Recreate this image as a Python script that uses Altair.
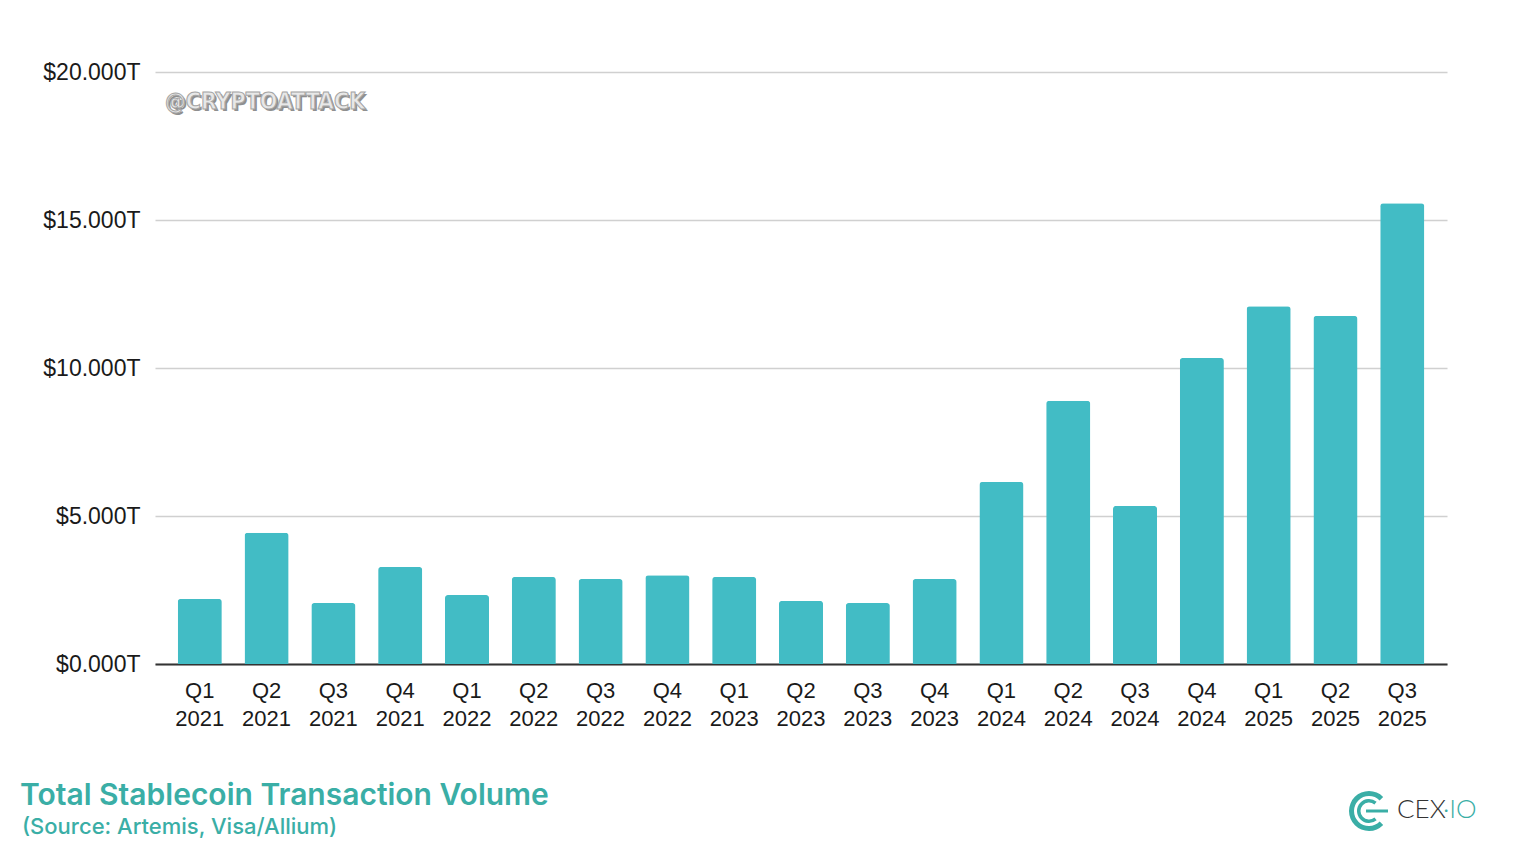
import altair as alt
import pandas as pd

quarters = ["Q1 2021", "Q2 2021", "Q3 2021", "Q4 2021",
            "Q1 2022", "Q2 2022", "Q3 2022", "Q4 2022",
            "Q1 2023", "Q2 2023", "Q3 2023", "Q4 2023",
            "Q1 2024", "Q2 2024", "Q3 2024", "Q4 2024",
            "Q1 2025", "Q2 2025", "Q3 2025"]
volume_t = [2.20, 4.43, 2.06, 3.28,
            2.33, 2.94, 2.87, 3.00,
            2.94, 2.13, 2.06, 2.87,
            6.15, 8.89, 5.34, 10.34,
            12.09, 11.76, 15.57]
y_ticks = [0, 5, 10, 15, 20]

title_text = "Total Stablecoin Transaction Volume"
subtitle_text = "(Source: Artemis, Visa/Allium)"
watermark_text = "@CRYPTOATTACK"

df = pd.DataFrame({"quarter": quarters, "volume": volume_t})
one = pd.DataFrame({"k": [0]})

TEAL = "#42bcc5"
TITLE_TEAL = "#3aaea6"
FONT = "Liberation Sans"
WM_FONT = "Liberation Sans Narrow, DejaVu Sans Condensed, sans-serif"

bars = alt.Chart(df).mark_bar(
    color=TEAL, cornerRadiusTopLeft=3, cornerRadiusTopRight=3
).encode(
    x=alt.X("quarter:N", sort=quarters,
            scale=alt.Scale(paddingInner=0.34, paddingOuter=0.34),
            axis=alt.Axis(title=None, labelAngle=0, ticks=False,
                          domainColor="#333333", domainWidth=2,
                          labelFont=FONT, labelFontSize=22, labelColor="#1a1a1a",
                          labelLineHeight=28, labelPadding=16,
                          labelExpr="split(datum.label, ' ')")),
    y=alt.Y("volume:Q",
            scale=alt.Scale(domain=[0, 20], nice=False),
            axis=alt.Axis(title=None, values=y_ticks, ticks=False, domain=False,
                          gridColor="#d0d0d0", gridWidth=1.5,
                          labelFont=FONT, labelFontSize=23, labelColor="#1a1a1a",
                          labelPadding=15,
                          labelExpr="'$' + format(datum.value, '.3f') + 'T'")),
)

wm_shadow = alt.Chart(one).mark_text(
    text=watermark_text, font=WM_FONT,
    fontWeight="bold", fontSize=23, align="left", baseline="alphabetic",
    color="#8f8f8f", dx=2, dy=2
).encode(x=alt.value(10), y=alt.value(37))

wm_front = alt.Chart(one).mark_text(
    text=watermark_text, font=WM_FONT,
    fontWeight="bold", fontSize=23, align="left", baseline="alphabetic",
    color="#e8e8e8", stroke="#a5a5a5", strokeWidth=1
).encode(x=alt.value(10), y=alt.value(37))

title = alt.Chart(one).mark_text(
    text=title_text, font="Inter", fontWeight=600, fontSize=30,
    align="left", baseline="alphabetic", color=TITLE_TEAL
).encode(x=alt.value(-135), y=alt.value(733))

subtitle = alt.Chart(one).mark_text(
    text=subtitle_text, font="Inter", fontWeight=500, fontSize=22,
    align="left", baseline="alphabetic", color=TITLE_TEAL
).encode(x=alt.value(-133), y=alt.value(762))

logo_c = alt.Chart(one).mark_text(
    text="CEX", font="Lato", fontWeight=300, fontSize=26,
    align="left", baseline="alphabetic", color="#333333"
).encode(x=alt.value(1242), y=alt.value(746))

logo_io = alt.Chart(one).mark_text(
    text="·IO", font="Lato", fontWeight=300, fontSize=26,
    align="left", baseline="alphabetic", color="#3aaea6"
).encode(x=alt.value(1288), y=alt.value(746))

cx, cy = 1214, 739
outer = alt.Chart(one).mark_arc(color="#3aaea6").encode(
    x=alt.value(cx), y=alt.value(cy),
    theta=alt.value(2.35), theta2=alt.value(7.07),
    radius=alt.value(20), radius2=alt.value(15))
inner = alt.Chart(one).mark_arc(color="#3aaea6").encode(
    x=alt.value(cx), y=alt.value(cy),
    theta=alt.value(2.45), theta2=alt.value(6.97),
    radius=alt.value(12), radius2=alt.value(8.5))
bar_mid = alt.Chart(one).mark_rule(color="#3aaea6", strokeWidth=3).encode(
    x=alt.value(cx - 3), x2=alt.value(cx + 19), y=alt.value(cy))

chart = alt.layer(
    bars, wm_shadow, wm_front, title, subtitle, logo_c, logo_io, outer, inner, bar_mid
).properties(
    width=1292, height=592,
    autosize=alt.AutoSizeParams(type="none"),
    padding={"left": 147, "top": 64, "right": 50, "bottom": 175},
    background="white"
).configure_view(stroke=None)

chart.save("out.html", embed_options={"renderer": "svg", "actions": False})
